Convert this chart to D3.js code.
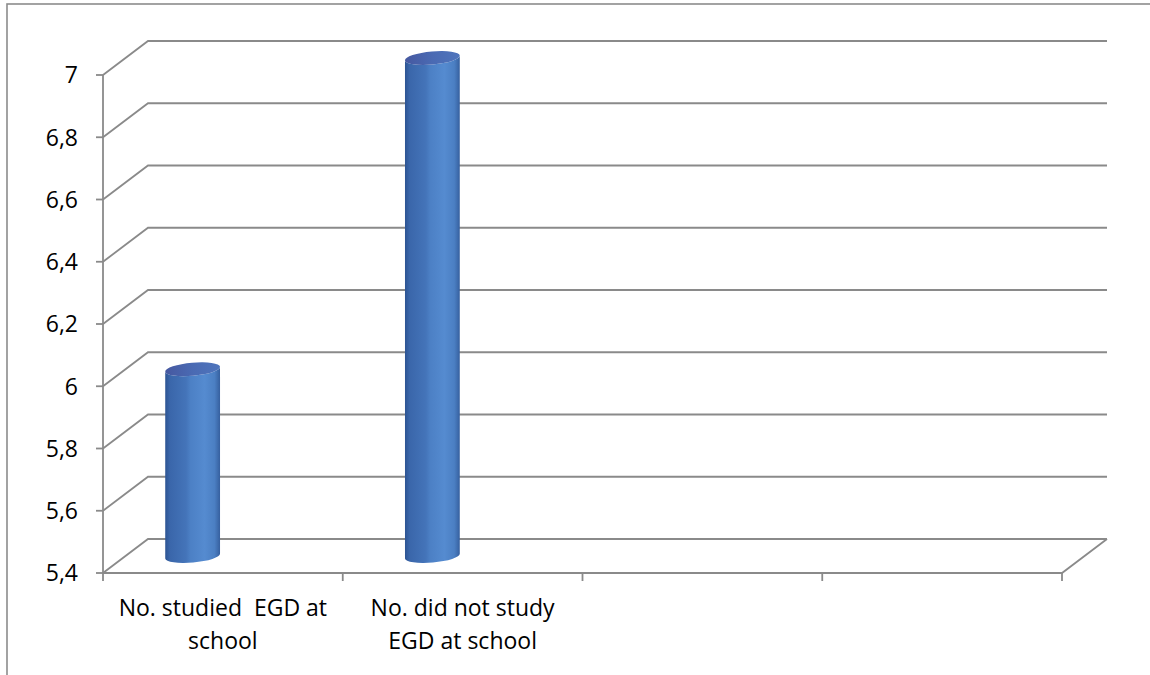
<!DOCTYPE html>
<html>
<head>
<meta charset="utf-8">
<script src="https://cdn.jsdelivr.net/npm/d3@7"></script>
<style>
  html, body { margin: 0; padding: 0; background: #fff; }
  svg { display: block; }
  text { font-family: "Open Sans", "Noto Sans", sans-serif; fill: #000; white-space: pre; }
</style>
</head>
<body>
<svg id="chart" width="1150" height="675"></svg>
<script>
// Categories (two empty slots complete the 3-D floor) and their values
const categories = ["No. studied  EGD at school", "No. did not study EGD at school", "", ""];
const categoryLines = [["No. studied  EGD at", "school"], ["No. did not study", "EGD at school"], [], []];
const values = [6, 7, null, null];
const yTicks = [5.4, 5.6, 5.8, 6, 6.2, 6.4, 6.6, 6.8, 7];
const yTickLabels = ["5,4", "5,6", "5,8", "6", "6,2", "6,4", "6,6", "6,8", "7"];

(function () {
const svg = d3.select("#chart");
const W = 1150, H = 675;

// Plot frame (front plane) and 3-D depth offset
const plotLeft = 103, plotRight = 1062, plotTop = 75, plotBottom = 573;
const depthX = 45, depthY = -34;
const gridColor = "#8a8a8a";
const fontSize = 23;

const x = d3.scaleBand().domain(d3.range(categories.length)).range([plotLeft, plotRight]).padding(0);
const y = d3.scaleLinear().domain([5.4, 7]).range([plotBottom, plotTop]);

// Outer chart border
svg.append("rect")
  .attr("x", 7).attr("y", 4).attr("width", W + 20).attr("height", H + 20)
  .attr("fill", "none").attr("stroke", "#8c8c8c").attr("stroke-width", 1.6);

// Gradients for the cylinders
const defs = svg.append("defs");
const body = defs.append("linearGradient").attr("id", "cylBody").attr("x1", "0").attr("x2", "1").attr("y1", "0").attr("y2", "0");
[["0%", "#2c5392"], ["8%", "#3a66aa"], ["38%", "#4474b9"], ["46%", "#4c80c5"], ["72%", "#558bd0"], ["90%", "#4b7fc3"], ["100%", "#36609f"]]
  .forEach(([o, c]) => body.append("stop").attr("offset", o).attr("stop-color", c));
const cap = defs.append("linearGradient").attr("id", "cylTop").attr("x1", "0").attr("x2", "1").attr("y1", "0").attr("y2", "0");
[["0%", "#4658a0"], ["50%", "#4a6ab3"], ["100%", "#4f75bc"]]
  .forEach(([o, c]) => cap.append("stop").attr("offset", o).attr("stop-color", c));

// Gridlines: slanted segment on the side wall + horizontal line on the back wall
const grid = svg.append("g").attr("stroke", gridColor).attr("stroke-width", 1.8).attr("fill", "none");
yTicks.forEach(t => {
  const yy = y(t);
  grid.append("path")
    .attr("d", `M${plotLeft},${yy}L${plotLeft + depthX},${yy + depthY}L${plotRight + depthX},${yy + depthY}`);
});
// Floor: front edge and right side
grid.append("path")
  .attr("d", `M${plotLeft},${plotBottom}L${plotRight},${plotBottom}L${plotRight + depthX},${plotBottom + depthY}`);

// Vertical value axis with ticks
grid.append("line").attr("x1", plotLeft).attr("x2", plotLeft).attr("y1", plotTop).attr("y2", plotBottom);
yTicks.forEach(t => {
  grid.append("line").attr("x1", plotLeft - 7).attr("x2", plotLeft).attr("y1", y(t)).attr("y2", y(t));
});
// Category tick marks
const catEdges = categories.map((c, i) => x(i)).concat([plotRight]);
catEdges.forEach(cx => {
  grid.append("line").attr("x1", cx).attr("x2", cx).attr("y1", plotBottom).attr("y2", plotBottom + 8);
});

// Value labels
svg.append("g").selectAll("text").data(yTicks).join("text")
  .attr("x", plotLeft - 25).attr("y", d => y(d)).attr("dy", "0.36em")
  .attr("text-anchor", "end").attr("font-size", fontSize)
  .text((d, i) => yTickLabels[i]);

// Category labels
const labels = svg.append("g");
categoryLines.forEach((lines, i) => {
  const cx = x(i) + x.bandwidth() / 2;
  lines.forEach((ln, j) => {
    labels.append("text").attr("x", cx).attr("y", 616 + j * 33)
      .attr("text-anchor", "middle").attr("font-size", fontSize).text(ln);
  });
});

// Cylinders, centred at mid-depth
const rx = 27.5, ry = 6.5, phiDeg = -5;
const phi = phiDeg * Math.PI / 180;
const bars = svg.append("g");
values.forEach((v, i) => {
  if (v == null) return;
  const cx = x(i) + x.bandwidth() * 0.28 + depthX / 2;
  const yTop = y(v) + depthY / 2;
  const yBot = y(5.4) + depthY / 2;
  const ex = rx * Math.cos(phi), ey = rx * Math.sin(phi);
  const d = `M${cx - ex},${yTop - ey}` +
            `L${cx - ex},${yBot - ey}` +
            `A${rx},${ry} ${phiDeg} 0 0 ${cx + ex},${yBot + ey}` +
            `L${cx + ex},${yTop + ey}` +
            `A${rx},${ry} ${phiDeg} 0 1 ${cx - ex},${yTop - ey}Z`;
  bars.append("path").attr("d", d).attr("fill", "url(#cylBody)");
  bars.append("ellipse")
    .attr("cx", cx).attr("cy", yTop).attr("rx", rx).attr("ry", ry)
    .attr("transform", `rotate(${phiDeg},${cx},${yTop})`)
    .attr("fill", "url(#cylTop)");
});
})();
</script>
</body>
</html>
